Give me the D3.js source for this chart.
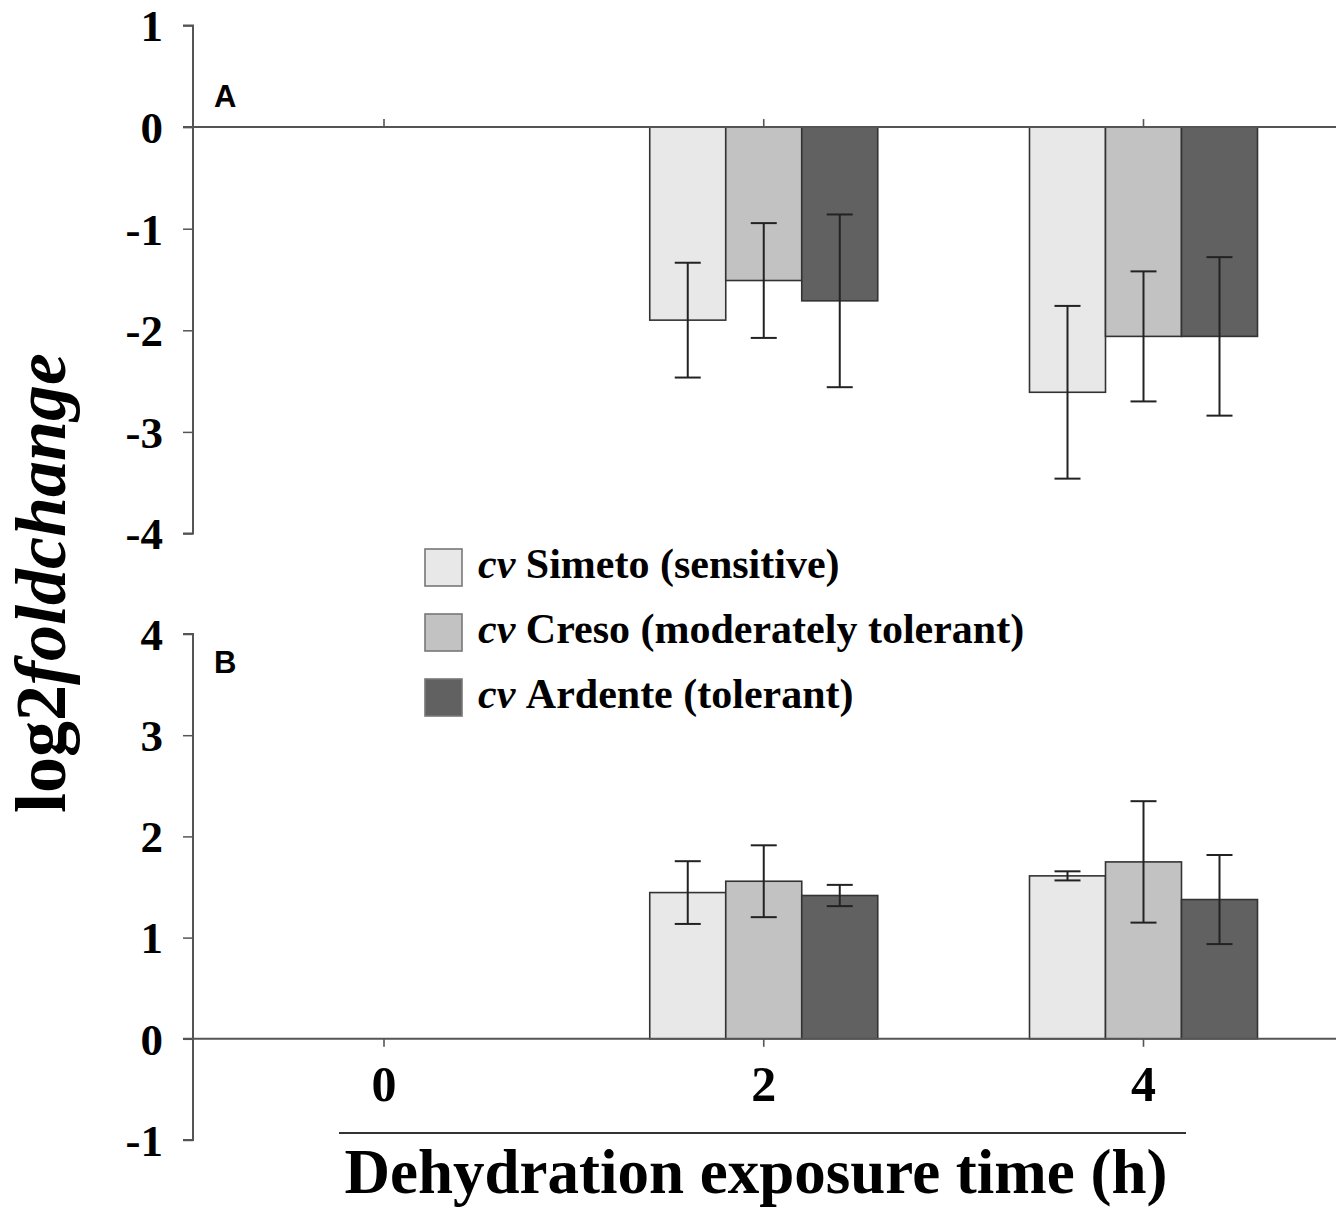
<!DOCTYPE html>
<html>
<head>
<meta charset="utf-8">
<script src="https://cdn.jsdelivr.net/npm/d3@7"></script>
<style>
  html, body { margin: 0; padding: 0; background: #fff; }
  svg { display: block; }
</style>
</head>
<body>
<svg id="chart" width="1343" height="1211"></svg>
<script>
// ---------- data ----------
const times = [0, 2, 4];
const timeLabels = ["0", "2", "4"];
const cultivars = ["Simeto", "Creso", "Ardente"];
const legendNames = ["Simeto (sensitive)", "Creso (moderately tolerant)", "Ardente (tolerant)"];
const colors = ["#e8e8e8", "#c2c2c2", "#616161"];

// Panel A values (per time, per cultivar)
const simetoA = [0, -1.90, -2.61];
const cresoA = [0, -1.51, -2.06];
const ardenteA = [0, -1.71, -2.06];
const simetoAErr = [0, 0.565, 0.85];
const cresoAErr = [0, 0.565, 0.64];
const ardenteAErr = [0, 0.85, 0.78];

// Panel B values
const simetoB = [0, 1.445, 1.61];
const cresoB = [0, 1.557, 1.748];
const ardenteB = [0, 1.416, 1.376];
const simetoBErr = [0, 0.31, 0.045];
const cresoBErr = [0, 0.355, 0.60];
const ardenteBErr = [0, 0.105, 0.44];

const ticksA = [1, 0, -1, -2, -3, -4];
const ticksB = [4, 3, 2, 1, 0, -1];

// ---------- layout ----------
const svg = d3.select("#chart");
const axisX = 193;
const rightX = 1336;
const serif = "'Liberation Serif', 'Times New Roman', serif";
const sans = "'Liberation Sans', Arial, sans-serif";
const axisColor = "#555";

const x = d3.scaleLinear().domain([0, 4]).range([384, 1143.5]);
const sub = d3.scaleBand().domain(cultivars).range([-114, 114]).padding(0);

const yA = d3.scaleLinear().domain([-4, 1]).range([533.5, 25.5]);
const yB = d3.scaleLinear().domain([-1, 4]).range([1140, 634]);

function panel(y, ticks, vals, errs, tickDir, label, labelY) {
  const g = svg.append("g");
  const ax = d3.axisLeft(y).tickValues(ticks).tickSize(10).tickFormat(d3.format("d"));
  const axg = g.append("g").attr("transform", `translate(${axisX},0)`).call(ax);
  axg.select(".domain").attr("stroke", axisColor).attr("stroke-width", 2)
     .attr("d", `M-10,${y(ticks[0])}H0V${y(ticks[ticks.length-1])}H-10`);
  axg.selectAll(".tick line").attr("stroke", axisColor).attr("stroke-width", 1.5);
  axg.selectAll(".tick text")
     .attr("x", -30)
     .attr("font-family", serif).attr("font-weight", "bold")
     .attr("font-size", 45).attr("fill", "#000")
     .attr("dy", "0.34em")
     .text(d => d < 0 ? "-" + Math.abs(d) : d);

  const data = [];
  times.forEach((t, i) => {
    cultivars.forEach((c, j) => {
      data.push({ t, c, j, v: vals[j][i], e: errs[j][i] });
    });
  });
  const shown = data.filter(d => d.v !== 0);
  g.selectAll("rect.bar").data(shown).enter().append("rect")
    .attr("class", "bar")
    .attr("x", d => x(d.t) + sub(d.c))
    .attr("width", sub.bandwidth())
    .attr("y", d => Math.min(y(0), y(d.v)))
    .attr("height", d => Math.abs(y(d.v) - y(0)))
    .attr("fill", d => colors[d.j])
    .attr("stroke", "#333").attr("stroke-width", 1.6);

  g.append("line").attr("x1", axisX - 10).attr("x2", rightX)
    .attr("y1", y(0)).attr("y2", y(0))
    .attr("stroke", axisColor).attr("stroke-width", 2);

  g.selectAll("line.xt").data(times).enter().append("line")
    .attr("x1", d => x(d)).attr("x2", d => x(d))
    .attr("y1", y(0)).attr("y2", y(0) + tickDir * 8)
    .attr("stroke", axisColor).attr("stroke-width", 1.6);

  const eb = g.selectAll("g.err").data(shown).enter().append("g").attr("class", "err");
  const cx = d => x(d.t) + sub(d.c) + sub.bandwidth() / 2;
  eb.append("line").attr("x1", cx).attr("x2", cx)
    .attr("y1", d => y(d.v + d.e)).attr("y2", d => y(d.v - d.e))
    .attr("stroke", "#222").attr("stroke-width", 2);
  [1, -1].forEach(s => {
    eb.append("line").attr("x1", d => cx(d) - 13).attr("x2", d => cx(d) + 13)
      .attr("y1", d => y(d.v + s * d.e)).attr("y2", d => y(d.v + s * d.e))
      .attr("stroke", "#222").attr("stroke-width", 2);
  });

  g.append("text").attr("x", 214).attr("y", labelY)
    .attr("font-family", sans).attr("font-weight", "bold").attr("font-size", 31)
    .attr("fill", "#000").text(label);
}

panel(yA, ticksA, [simetoA, cresoA, ardenteA], [simetoAErr, cresoAErr, ardenteAErr], -1, "A", 107);
panel(yB, ticksB, [simetoB, cresoB, ardenteB], [simetoBErr, cresoBErr, ardenteBErr], 1, "B", 673);

svg.selectAll("text.xl").data(times).enter().append("text")
  .attr("x", d => x(d)).attr("y", 1101)
  .attr("text-anchor", "middle")
  .attr("font-family", serif).attr("font-weight", "bold").attr("font-size", 50)
  .attr("fill", "#000")
  .text((d, i) => timeLabels[i]);

svg.append("line").attr("x1", 339).attr("x2", 1186).attr("y1", 1133).attr("y2", 1133)
  .attr("stroke", "#333").attr("stroke-width", 2);

svg.append("text").attr("x", 756).attr("y", 1193)
  .attr("text-anchor", "middle")
  .attr("font-family", serif).attr("font-weight", "bold").attr("font-size", 63)
  .attr("fill", "#000")
  .text("Dehydration exposure time (h)");

const yt = svg.append("text")
  .attr("transform", "translate(65,583) rotate(-90)")
  .attr("text-anchor", "middle")
  .attr("font-family", serif).attr("font-weight", "bold").attr("font-size", 72)
  .attr("fill", "#000");
yt.append("tspan").text("log2");
yt.append("tspan").attr("font-style", "italic").text("foldchange");

const lg = svg.append("g");
legendNames.forEach((name, i) => {
  const y0 = 549 + i * 65;
  lg.append("rect").attr("x", 425).attr("y", y0).attr("width", 37).attr("height", 37)
    .attr("fill", colors[i]).attr("stroke", "#777").attr("stroke-width", 1.6);
  const t = lg.append("text").attr("x", 478).attr("y", y0 + 29)
    .attr("font-family", serif).attr("font-weight", "bold").attr("font-size", 42)
    .attr("fill", "#000");
  t.append("tspan").attr("font-style", "italic").text("cv ");
  t.append("tspan").text(name);
});
</script>
</body>
</html>
